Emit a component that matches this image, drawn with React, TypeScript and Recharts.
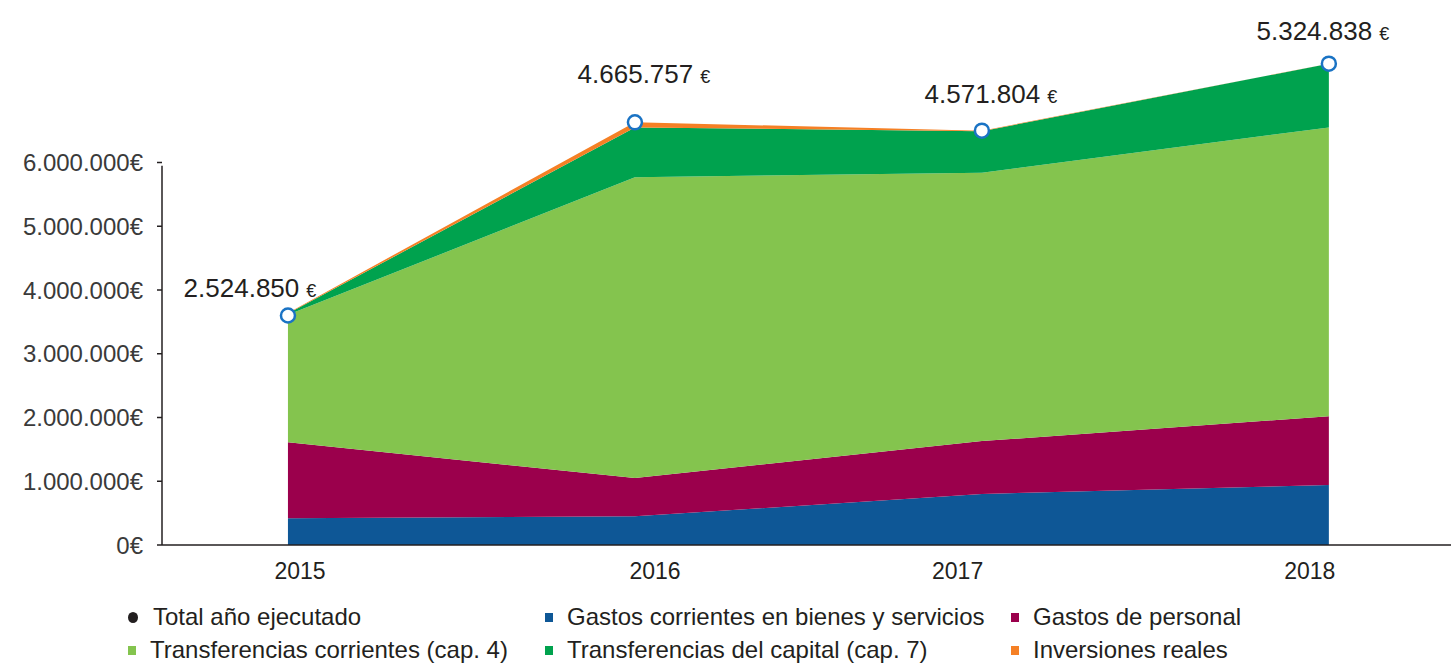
import React from 'react';
import {
  ComposedChart, Area, Line, XAxis, YAxis, ReferenceLine, LabelList,
} from 'recharts';

const years = ['2015', '2016', '2017', '2018'];
const gastosBienes = [420000, 450000, 800000, 940000];
const gastosPersonal = [1190000, 600000, 830000, 1080000];
const transfCorrientes = [2000000, 4720000, 4210000, 4530000];
const transfCapital = [20000, 780000, 650000, 1000000];
const inversiones = [10000, 80000, 10000, 0];
const totalPoint = [3600000, 6630000, 6500000, 7550000];
const totalLabels = ['2.524.850', '4.665.757', '4.571.804', '5.324.838'];
const yTicks = [0, 1000000, 2000000, 3000000, 4000000, 5000000, 6000000];

const data = years.map((year, i) => ({
  year,
  idx: i,
  bienes: gastosBienes[i],
  personal: gastosPersonal[i],
  corrientes: transfCorrientes[i],
  capital: transfCapital[i],
  inversiones: inversiones[i],
  total: totalPoint[i],
}));

const FONT = '"Liberation Sans", Arial, Helvetica, sans-serif';
const W = 1451;
const H = 666;
const X_DOMAIN: [number, number] = [-0.363, 3.352];
// where the year labels and the small tick marks sit (in index units)
const yearLabelPos = [0.035, 1.058, 1.93, 2.945];
const tickMarkPos = [0.573, 1.499, 2.43];
// label nudges relative to each total point
const labelShift = [
  { dx: -38, dy: -19 },
  { dx: 9, dy: -39 },
  { dx: 9, dy: -28 },
  { dx: -6, dy: -24 },
];

const fmtY = (v: number) =>
  v === 0 ? '0€' : `${(v / 1000000).toFixed(0)}.000.000€`;

const TotalLabel = (props: any) => {
  const { x, y, index } = props;
  const s = labelShift[index];
  return (
    <text x={x + s.dx} y={y + s.dy} textAnchor="middle" fill="#231f20" fontFamily={FONT}>
      <tspan fontSize={26}>{totalLabels[index]}</tspan>
      <tspan fontSize={18} dx={7}>€</tspan>
    </text>
  );
};

const EmptyTick = () => <g />;

const legendItems = [
  { name: 'Total año ejecutado', color: '#231f20', round: true, left: 128, top: 603 },
  { name: 'Gastos corrientes en bienes y servicios', color: '#0e5796', left: 545, top: 603 },
  { name: 'Gastos de personal', color: '#9b004c', left: 1011, top: 603 },
  { name: 'Transferencias corrientes (cap. 4)', color: '#84c44e', left: 128, top: 636 },
  { name: 'Transferencias del capital (cap. 7)', color: '#00a24e', left: 545, top: 636 },
  { name: 'Inversiones reales', color: '#f58025', left: 1011, top: 636 },
];

export default function App() {
  return (
    <div style={{ position: 'absolute', left: 0, top: 0, width: W, height: H, background: '#fff', overflow: 'hidden', fontFamily: FONT }}>
      <ComposedChart width={W} height={H} data={data} margin={{ top: 35, right: 0, bottom: 81, left: 0 }}>
        <XAxis
          dataKey="idx"
          type="number"
          domain={X_DOMAIN}
          ticks={yearLabelPos}
          tickFormatter={(v: number) => years[Math.round(v)]}
          tickLine={false}
          tickMargin={12}
          height={40}
          axisLine={{ stroke: '#231f20', strokeWidth: 1.5 }}
          tick={{ fill: '#231f20', fontSize: 23, fontFamily: FONT }}
        />
        <XAxis
          xAxisId="marks"
          type="number"
          domain={X_DOMAIN}
          ticks={tickMarkPos}
          mirror
          axisLine={false}
          tickSize={8}
          tickLine={{ stroke: '#231f20', strokeWidth: 1.5 }}
          tick={<EmptyTick />}
          height={0}
        />
        <YAxis
          width={162}
          domain={[0, 8000000]}
          ticks={yTicks}
          tickFormatter={fmtY}
          axisLine={false}
          tickSize={5}
          tickMargin={14}
          tickLine={{ stroke: '#231f20', strokeWidth: 1.5 }}
          tick={{ fill: '#3a3a3a', fontSize: 24, fontFamily: FONT }}
        />
        <Area dataKey="bienes" stackId="a" type="linear" fill="#0e5796" fillOpacity={1} stroke="none" isAnimationActive={false} />
        <Area dataKey="personal" stackId="a" type="linear" fill="#9b004c" fillOpacity={1} stroke="none" isAnimationActive={false} />
        <Area dataKey="corrientes" stackId="a" type="linear" fill="#84c44e" fillOpacity={1} stroke="none" isAnimationActive={false} />
        <Area dataKey="capital" stackId="a" type="linear" fill="#00a24e" fillOpacity={1} stroke="none" isAnimationActive={false} />
        <Area dataKey="inversiones" stackId="a" type="linear" fill="#f58025" fillOpacity={1} stroke="none" isAnimationActive={false} />
        <ReferenceLine
          segment={[{ x: X_DOMAIN[0], y: 0 }, { x: X_DOMAIN[0], y: 5950000 }]}
          stroke="#231f20"
          strokeWidth={1.5}
        />
        <Line
          dataKey="total"
          type="linear"
          stroke="none"
          isAnimationActive={false}
          dot={{ r: 7, fill: '#fff', stroke: '#1a73c4', strokeWidth: 2.5 }}
          activeDot={false}
        >
          <LabelList dataKey="total" content={<TotalLabel />} />
        </Line>
      </ComposedChart>
      {legendItems.map((it) => (
        <div key={it.name} style={{ position: 'absolute', left: it.left, top: it.top, display: 'flex', alignItems: 'center', fontSize: 24, color: '#231f20', whiteSpace: 'nowrap', lineHeight: '28px' }}>
          <span style={{ display: 'inline-block', width: it.round ? 10 : 8, height: it.round ? 11 : 9, borderRadius: it.round ? '50%' : 0, background: it.color, marginRight: it.round ? 15 : 14 }} />
          <span>{it.name}</span>
        </div>
      ))}
    </div>
  );
}
